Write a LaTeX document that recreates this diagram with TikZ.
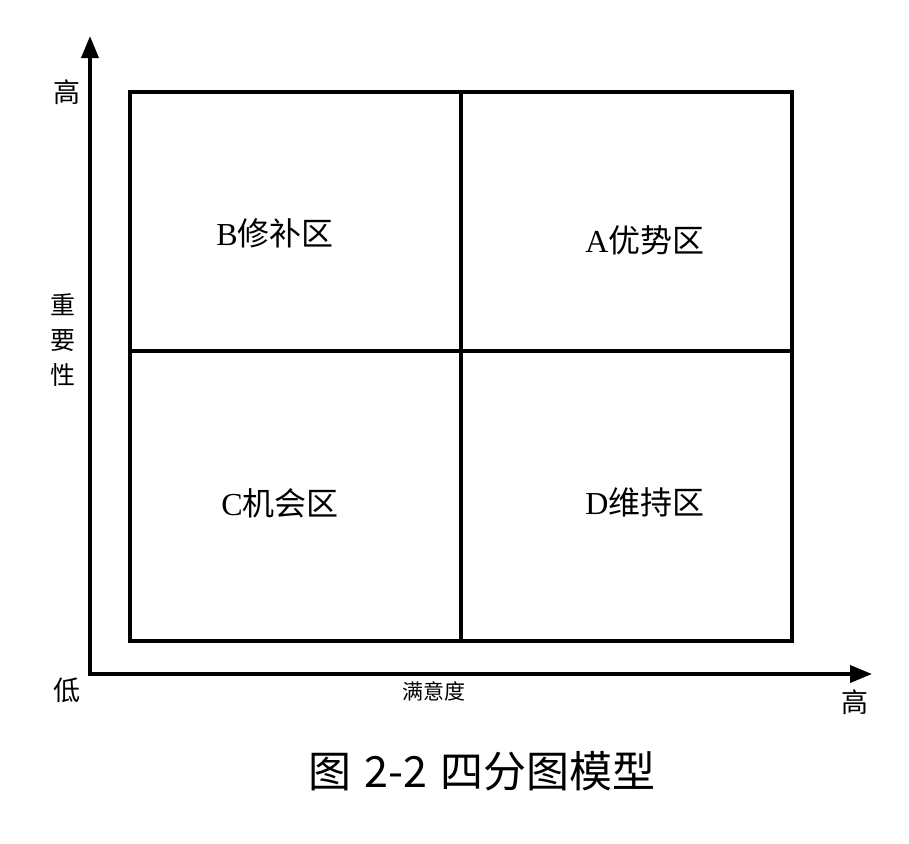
\documentclass[tikz,border=0pt]{standalone}
\usepackage{fontspec}
\setmainfont{Liberation Serif}
\newfontfamily\cjk{Noto Sans CJK SC}
\usetikzlibrary{arrows.meta}

\begin{document}
\begin{tikzpicture}[x=1pt, y=-1pt, >={Triangle[length=22pt,width=17pt]}]
	
	% ==========================================
	% 1. STYLES
	% ==========================================
	\tikzset{
		axisline/.style={line width=3.6pt, ->},
		gridline/.style={line width=3.6pt},
		axislabel/.style={font=\cjk\fontsize{27}{29}\selectfont, inner sep=0pt},
		zonelabel/.style={font=\fontsize{32}{34}\selectfont, inner sep=0pt},
	}
	
	% bounding box (reference size 909 x 843)
	\useasboundingbox (0,0) rectangle (909,843);
	
	% ==========================================
	% 2. AXES
	% ==========================================
	\coordinate (origin) at (90,674);
	\coordinate (ytip) at (90,36);
	\coordinate (xtip) at (872,674);
	
	\draw[axisline] (origin) -- (ytip);
	\draw[axisline] ([xshift=-1.8pt]origin) -- (xtip);
	
	% ==========================================
	% 3. QUADRANT GRID
	% ==========================================
	\draw[gridline] (130,92) rectangle (792,641);
	\draw[gridline] (461,92) -- (461,641);   % vertical split
	\draw[gridline] (130,351) -- (792,351);  % horizontal split
	
	% ==========================================
	% 4. AXIS LABELS
	% ==========================================
	\node[axislabel] (yhigh) at (67,92) {高};
	\node[axislabel, align=center, font=\cjk\fontsize{25}{35}\selectfont] (ytitle) at (63,340) {重\\要\\性};
	\node[axislabel] (low) at (67,690) {低};
	\node[axislabel, font=\cjk\fontsize{21}{23}\selectfont] (xtitle) at (434,691) {满意度};
	\node[axislabel] (xhigh) at (855,702) {高};
	
	% ==========================================
	% 5. ZONE LABELS
	% ==========================================
	\node[zonelabel] (zoneB) at (275,233) {B{\cjk 修补区}};
	\node[zonelabel] (zoneA) at (645,240) {A{\cjk 优势区}};
	\node[zonelabel] (zoneC) at (280,503) {C{\cjk 机会区}};
	\node[zonelabel] (zoneD) at (645,502) {D{\cjk 维持区}};
	
	% ==========================================
	% 6. CAPTION
	% ==========================================
	\node[font=\cjk\fontsize{43}{45}\selectfont, inner sep=0pt] (caption) at (482,771) {图\hspace{0.3em}2-2\hspace{0.3em}四分图模型};
	
\end{tikzpicture}
\end{document}
